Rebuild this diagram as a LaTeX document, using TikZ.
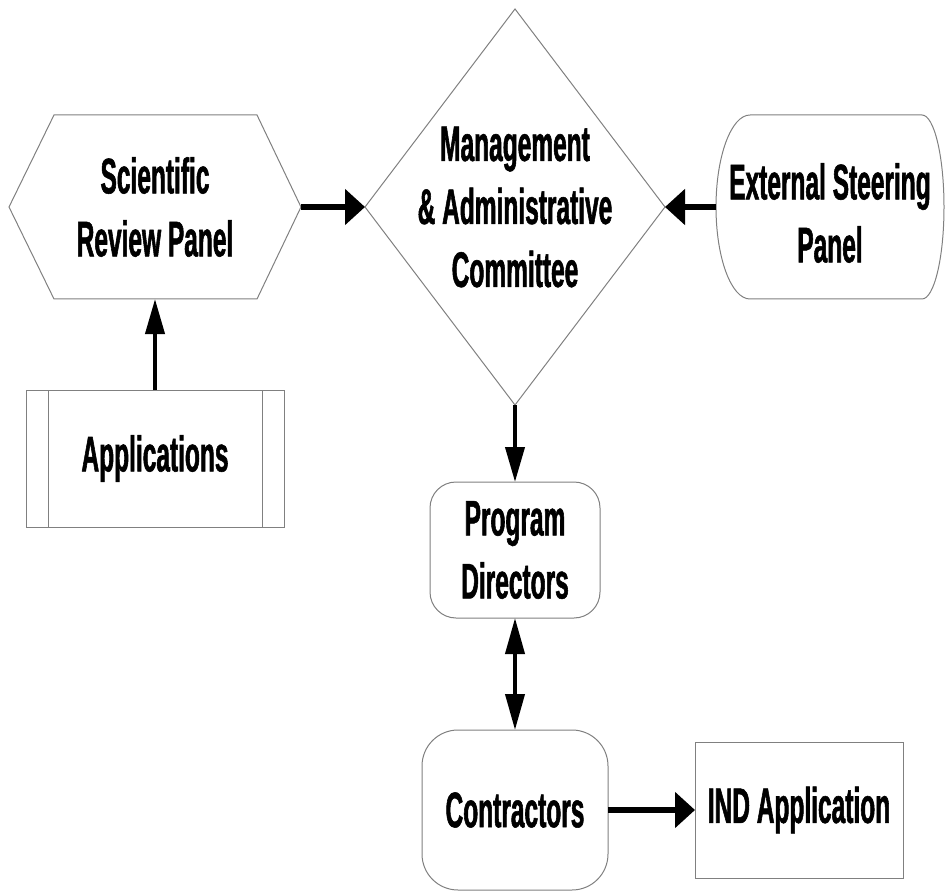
\documentclass[tikz,border=0pt]{standalone}
\usepackage{fontspec}
\setmainfont{Liberation Sans}[FakeStretch=0.49, FakeBold=1.1]
\usepackage{tikz}
\usetikzlibrary{arrows.meta,positioning,fit,shapes.geometric}
\definecolor{edge}{RGB}{128,128,128}

\begin{document}
\begin{tikzpicture}[x=1pt, y=-1pt,
    font=\bfseries\fontsize{50}{63}\selectfont,
    every fit/.style={inner sep=0pt, outer sep=0pt, draw=edge, line width=1pt},
    every label/.style={align=center},
    heavy/.style={line width=6.5pt, -{Triangle[length=20pt,width=35pt]}},
    slim/.style={line width=4pt, -{Triangle[length=35pt,width=19pt]}},
    slimboth/.style={line width=4pt, {Triangle[length=36pt,width=19pt]}-{Triangle[length=36pt,width=19pt]}}]
  \useasboundingbox (0,0) rectangle (945,893);
  \begin{scope}
    \node [fit={(  9,115) (301,299)}, draw=none, label=center:{Scientific\\Review Panel}] (srp) {};
    \node [fit={(716,115) (944,299)}, draw=none, label={[yshift=-6pt]center:External Steering\\Panel}] (esp) {};
    \node [fit={( 26,390) (284,527)}, label=center:{Applications}] (app) {};
    \node [fit={(430,482) (600,618)}, rounded corners=26pt, label=center:{Program\\Directors}] (pd) {};
    \node [fit={(422,730) (608,890)}, rounded corners=36pt, label=center:{Contractors}] (con) {};
    \node [fit={(695,742) (903,878)}, label=center:{IND Application}] (ind) {};
    \node [diamond, draw=edge, line width=1pt, inner sep=0pt, outer sep=0pt,
      minimum width=300pt, minimum height=396pt,
      label=center:{Management\\\& Administrative\\Committee}] (mac) at (515,207) {};
  \end{scope}
  \draw[edge, line width=1pt] (srp.west) -- ([xshift=45pt]srp.north west) -- ([xshift=-44pt]srp.north east)
    -- (srp.east) -- ([xshift=-44pt]srp.south east) -- ([xshift=45pt]srp.south west) -- cycle;
  \draw[edge, line width=1pt] (750,115) -- (922,115) .. controls (934.1,115) and (944,156.2) .. (944,207)
    .. controls (944,257.8) and (934.1,299) .. (922,299) -- (750,299)
    .. controls (731.2,299) and (716,257.8) .. (716,207) .. controls (716,156.2) and (731.2,115) .. (750,115);
  \draw[edge, line width=1pt] ([xshift=22pt]app.north west) -- ([xshift=22pt]app.south west)
    ([xshift=-22pt]app.north east) -- ([xshift=-22pt]app.south east);
  \draw[heavy] (srp.east) -- (mac.west);
  \draw[heavy] (esp.west) -- (mac.east);
  \draw[slim] (app) -- (srp);
  \draw[slim] (mac.south) -- (pd.north);
  \draw[slimboth] (pd) -- (con);
  \draw[heavy] (con) -- (ind);
\end{tikzpicture}
\end{document}
